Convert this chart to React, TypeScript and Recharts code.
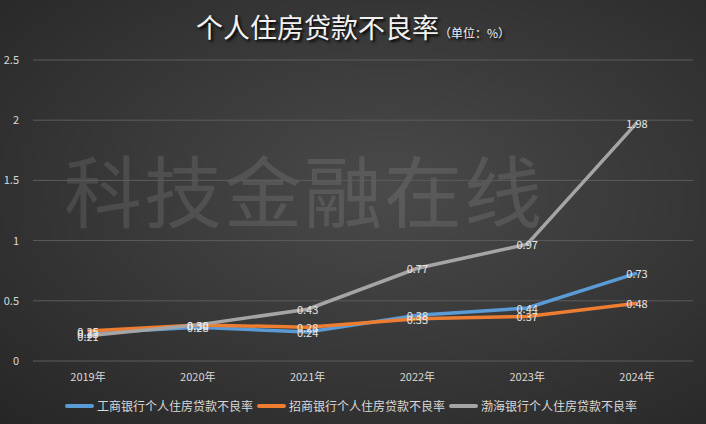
import React from 'react';
import { LineChart, Line, XAxis, YAxis, CartesianGrid, LabelList } from 'recharts';

const years = ['2019年', '2020年', '2021年', '2022年', '2023年', '2024年'];
const icbc = [0.23, 0.28, 0.24, 0.38, 0.44, 0.73];
const cmb = [0.25, 0.3, 0.28, 0.35, 0.37, 0.48];
const bohai = [0.21, 0.3, 0.43, 0.77, 0.97, 1.98];
const yTicks = [0, 0.5, 1, 1.5, 2, 2.5];

const series = [
  { key: 'icbc', name: '工商银行个人住房贷款不良率', color: '#5b9bd5' },
  { key: 'cmb', name: '招商银行个人住房贷款不良率', color: '#ed7d31' },
  { key: 'bohai', name: '渤海银行个人住房贷款不良率', color: '#a5a5a5' },
];

const data = years.map((year, i) => ({
  year,
  icbc: icbc[i],
  cmb: cmb[i],
  bohai: bohai[i],
}));

const font = '"Noto Sans CJK SC", "Noto Sans", sans-serif';

const PointLabel = (props: any) => {
  const { x, y, value } = props;
  return (
    <text x={x} y={y} fill="#e6e6e6" fontSize={11} textAnchor="middle" dominantBaseline="central" fontFamily={font}>
      {Number(value).toFixed(2)}
    </text>
  );
};

export default function App() {
  return (
    <div
      style={{
        position: 'relative',
        width: 706,
        height: 424,
        overflow: 'hidden',
        background: 'radial-gradient(ellipse at 55% 45%, #4a4a4a 0%, #383838 50%, #262626 100%)',
        fontFamily: font,
      }}
    >
      <style>{'body{margin:0}'}</style>
      <div
        style={{
          position: 'absolute',
          top: 7,
          left: 0,
          width: 706,
          textAlign: 'center',
          color: '#f2f2f2',
          textShadow: '2px 2px 3px #000',
          whiteSpace: 'nowrap',
        }}
      >
        <span style={{ fontSize: 27, letterSpacing: 0 }}>个人住房贷款不良率</span>
        <span style={{ fontSize: 12 }}>（单位：%）</span>
      </div>
      <div
        style={{
          position: 'absolute',
          top: 132,
          left: 64,
          fontSize: 78,
          letterSpacing: 2,
          color: 'rgba(255,255,255,0.1)',
          whiteSpace: 'nowrap',
        }}
      >
        科技金融在线
      </div>
      <div style={{ position: 'absolute', top: 0, left: 0 }}>
        <LineChart width={706} height={424} data={data} margin={{ top: 60, right: 13, left: 8, bottom: 33 }}>
          <CartesianGrid horizontal vertical={false} stroke="#5c5c5c" strokeWidth={1} />
          <XAxis
            dataKey="year"
            axisLine={false}
            tickLine={false}
            height={30}
            padding={{ left: 55, right: 56 }}
            tick={{ fill: '#d9d9d9', fontSize: 11, fontFamily: font }}
            tickMargin={6}
          />
          <YAxis
            domain={[0, 2.5]}
            ticks={yTicks}
            width={25}
            axisLine={false}
            tickLine={false}
            tick={{ fill: '#d9d9d9', fontSize: 11, fontFamily: font }}
            tickMargin={8}
          />
          {series.map((s) => (
            <Line
              key={s.key}
              dataKey={s.key}
              name={s.name}
              stroke={s.color}
              strokeWidth={3.5}
              dot={false}
              activeDot={false}
              isAnimationActive={false}
            >
              <LabelList dataKey={s.key} content={PointLabel} />
            </Line>
          ))}
        </LineChart>
      </div>
      <div
        style={{
          position: 'absolute',
          top: 397,
          left: 0,
          width: 706,
          display: 'flex',
          justifyContent: 'center',
          gap: 4,
          color: '#d9d9d9',
          fontSize: 12,
          paddingRight: 4,
          boxSizing: 'border-box',
        }}
      >
        {series.map((s) => (
          <div key={s.key} style={{ display: 'flex', alignItems: 'center' }}>
            <span style={{ display: 'inline-block', width: 29, height: 4, background: s.color, marginRight: 3, borderRadius: 2 }} />
            <span>{s.name}</span>
          </div>
        ))}
      </div>
    </div>
  );
}
